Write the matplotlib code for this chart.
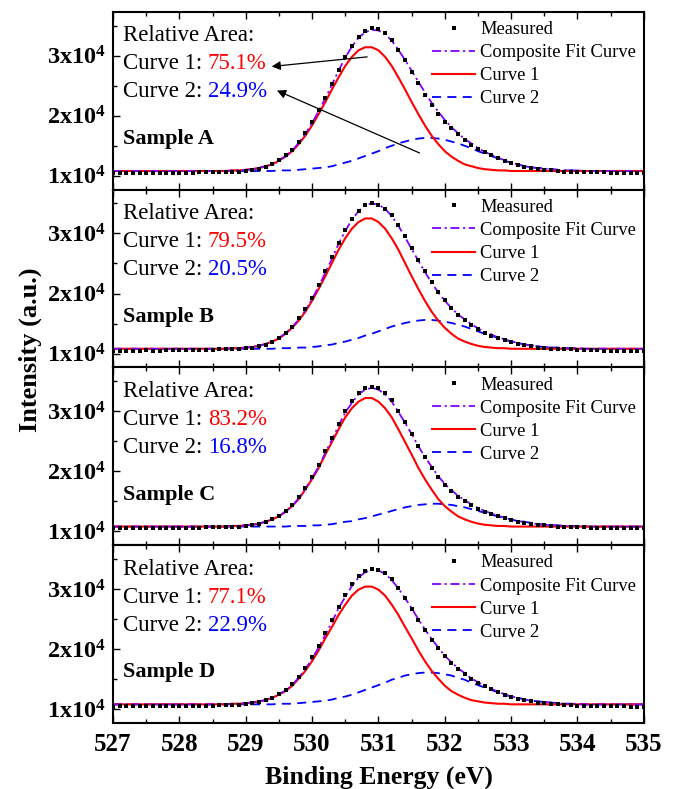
import numpy as np
import matplotlib
matplotlib.use('Agg')
from matplotlib import pyplot as plt
from matplotlib.ticker import MultipleLocator

plt.rcParams['font.family'] = 'Liberation Serif'
plt.rcParams['mathtext.fontset'] = 'custom'
plt.rcParams['mathtext.rm'] = 'Liberation Serif'
plt.rcParams['mathtext.bf'] = 'Liberation Serif:bold'

# binding energy grid, 0.1 eV steps
energy = np.round(np.arange(527.0, 535.05, 0.1), 1)

# all intensities in units of 1e3 counts
meas_a = [10.4, 10.5, 10.5, 10.5, 10.5, 10.5, 10.5, 10.5, 10.5, 10.5,
          10.5, 10.5, 10.5, 10.6, 10.6, 10.6, 10.6, 10.6, 10.7, 10.7,
          10.8, 11.0, 11.2, 11.5, 11.9, 12.6, 13.4, 14.3, 15.6, 17.1,
          18.9, 20.9, 23.0, 25.3, 27.6, 29.8, 31.6, 33.1, 34.1, 34.6,
          34.5, 33.8, 32.6, 31.0, 29.2, 27.3, 25.4, 23.5, 21.8, 20.3,
          19.0, 17.9, 16.9, 16.0, 15.2, 14.5, 13.9, 13.4, 12.9, 12.5,
          12.1, 11.8, 11.5, 11.3, 11.1, 11.0, 10.9, 10.8, 10.7, 10.7,
          10.7, 10.6, 10.6, 10.6, 10.6, 10.5, 10.5, 10.5, 10.4, 10.4,
          10.4]
fit_a = [10.8, 10.8, 10.8, 10.8, 10.8, 10.8, 10.8, 10.8, 10.8, 10.8,
         10.8, 10.8, 10.8, 10.8, 10.8, 10.8, 10.8, 10.8, 10.9, 10.9,
         11.0, 11.1, 11.3, 11.6, 11.9, 12.6, 13.3, 14.2, 15.5, 17.0,
         18.8, 20.8, 22.9, 25.2, 27.5, 29.7, 31.5, 33.0, 33.9, 34.3,
         34.2, 33.6, 32.5, 31.0, 29.3, 27.5, 25.7, 23.9, 22.2, 20.7,
         19.3, 18.1, 17.1, 16.1, 15.4, 14.6, 14.0, 13.5, 13.0, 12.6,
         12.2, 11.9, 11.6, 11.4, 11.3, 11.2, 11.1, 11.0, 10.9, 10.9,
         10.9, 10.8, 10.8, 10.8, 10.8, 10.8, 10.8, 10.8, 10.8, 10.8,
         10.8]
c1_a = [10.8, 10.8, 10.8, 10.8, 10.8, 10.8, 10.8, 10.8, 10.8, 10.8,
        10.8, 10.8, 10.8, 10.8, 10.8, 10.8, 10.8, 10.8, 10.9, 10.9,
        11.0, 11.1, 11.3, 11.6, 11.9, 12.5, 13.2, 14.1, 15.3, 16.7,
        18.4, 20.3, 22.3, 24.4, 26.4, 28.3, 29.8, 30.9, 31.4, 31.4,
        30.9, 29.8, 28.3, 26.4, 24.4, 22.3, 20.3, 18.4, 16.7, 15.3,
        14.1, 13.2, 12.5, 11.9, 11.6, 11.3, 11.1, 11.0, 10.9, 10.9,
        10.8, 10.8, 10.8, 10.8, 10.8, 10.8, 10.8, 10.8, 10.8, 10.8,
        10.8, 10.8, 10.8, 10.8, 10.8, 10.8, 10.8, 10.8, 10.8, 10.8,
        10.8]
c2_a = [10.8, 10.8, 10.8, 10.8, 10.8, 10.8, 10.8, 10.8, 10.8, 10.8,
        10.8, 10.8, 10.8, 10.8, 10.8, 10.8, 10.8, 10.8, 10.8, 10.8,
        10.8, 10.8, 10.8, 10.8, 10.8, 10.9, 10.9, 10.9, 11.0, 11.1,
        11.2, 11.3, 11.4, 11.6, 11.9, 12.2, 12.5, 12.9, 13.3, 13.7,
        14.1, 14.6, 15.0, 15.4, 15.7, 16.0, 16.2, 16.3, 16.3, 16.2,
        16.0, 15.7, 15.4, 15.0, 14.6, 14.1, 13.7, 13.3, 12.9, 12.5,
        12.2, 11.9, 11.6, 11.4, 11.3, 11.2, 11.1, 11.0, 10.9, 10.9,
        10.9, 10.8, 10.8, 10.8, 10.8, 10.8, 10.8, 10.8, 10.8, 10.8,
        10.8]

meas_b = [10.5, 10.5, 10.5, 10.5, 10.5, 10.6, 10.5, 10.5, 10.6, 10.6,
          10.6, 10.6, 10.6, 10.6, 10.6, 10.6, 10.7, 10.7, 10.7, 10.8,
          10.9, 11.0, 11.2, 11.5, 12.0, 12.6, 13.5, 14.5, 15.9, 17.4,
          19.3, 21.4, 23.7, 26.0, 28.4, 30.5, 32.4, 33.8, 34.7, 35.0,
          34.8, 34.1, 33.0, 31.4, 29.6, 27.6, 25.6, 23.7, 21.9, 20.3,
          18.9, 17.6, 16.5, 15.6, 14.8, 14.1, 13.5, 13.0, 12.6, 12.2,
          11.9, 11.6, 11.4, 11.2, 11.0, 10.9, 10.8, 10.8, 10.7, 10.7,
          10.6, 10.6, 10.6, 10.6, 10.5, 10.5, 10.5, 10.5, 10.5, 10.4,
          10.4]
fit_b = [10.8, 10.8, 10.8, 10.8, 10.8, 10.8, 10.8, 10.8, 10.8, 10.8,
         10.8, 10.8, 10.8, 10.8, 10.8, 10.8, 10.8, 10.8, 10.9, 10.9,
         11.0, 11.1, 11.3, 11.6, 12.0, 12.6, 13.4, 14.4, 15.7, 17.2,
         19.1, 21.2, 23.5, 25.8, 28.3, 30.4, 32.3, 33.7, 34.7, 35.0,
         34.8, 34.1, 32.9, 31.3, 29.4, 27.4, 25.5, 23.6, 21.8, 20.2,
         18.8, 17.6, 16.5, 15.7, 14.9, 14.2, 13.6, 13.2, 12.7, 12.4,
         12.0, 11.8, 11.5, 11.4, 11.2, 11.1, 11.0, 11.0, 10.9, 10.9,
         10.9, 10.8, 10.8, 10.8, 10.8, 10.8, 10.8, 10.8, 10.8, 10.8,
         10.8]
c1_b = [10.8, 10.8, 10.8, 10.8, 10.8, 10.8, 10.8, 10.8, 10.8, 10.8,
        10.8, 10.8, 10.8, 10.8, 10.8, 10.8, 10.8, 10.8, 10.9, 10.9,
        11.0, 11.1, 11.3, 11.6, 12.0, 12.5, 13.3, 14.3, 15.5, 17.0,
        18.8, 20.8, 22.9, 25.1, 27.3, 29.2, 30.8, 31.9, 32.5, 32.5,
        31.9, 30.8, 29.2, 27.3, 25.1, 22.9, 20.8, 18.8, 17.0, 15.5,
        14.3, 13.3, 12.5, 12.0, 11.6, 11.3, 11.1, 11.0, 10.9, 10.9,
        10.8, 10.8, 10.8, 10.8, 10.8, 10.8, 10.8, 10.8, 10.8, 10.8,
        10.8, 10.8, 10.8, 10.8, 10.8, 10.8, 10.8, 10.8, 10.8, 10.8,
        10.8]
c2_b = [10.8, 10.8, 10.8, 10.8, 10.8, 10.8, 10.8, 10.8, 10.8, 10.8,
        10.8, 10.8, 10.8, 10.8, 10.8, 10.8, 10.8, 10.8, 10.8, 10.8,
        10.8, 10.8, 10.8, 10.8, 10.8, 10.9, 10.9, 10.9, 11.0, 11.0,
        11.1, 11.2, 11.4, 11.5, 11.8, 12.0, 12.3, 12.6, 13.0, 13.3,
        13.7, 14.1, 14.5, 14.8, 15.1, 15.3, 15.5, 15.6, 15.6, 15.5,
        15.3, 15.1, 14.8, 14.5, 14.1, 13.7, 13.3, 13.0, 12.6, 12.3,
        12.0, 11.8, 11.5, 11.4, 11.2, 11.1, 11.0, 11.0, 10.9, 10.9,
        10.9, 10.8, 10.8, 10.8, 10.8, 10.8, 10.8, 10.8, 10.8, 10.8,
        10.8]

meas_c = [10.5, 10.5, 10.6, 10.5, 10.5, 10.5, 10.6, 10.6, 10.6, 10.6,
          10.6, 10.6, 10.6, 10.6, 10.7, 10.7, 10.7, 10.7, 10.8, 10.8,
          10.9, 11.1, 11.3, 11.6, 12.1, 12.6, 13.4, 14.4, 15.7, 17.3,
          19.1, 21.1, 23.4, 25.6, 27.9, 30.0, 31.7, 33.1, 33.9, 34.1,
          33.8, 33.0, 31.8, 30.1, 28.2, 26.2, 24.2, 22.3, 20.6, 19.1,
          17.8, 16.8, 15.8, 15.0, 14.4, 13.8, 13.3, 12.9, 12.5, 12.2,
          11.9, 11.6, 11.4, 11.2, 11.1, 11.0, 10.9, 10.8, 10.8, 10.7,
          10.7, 10.7, 10.6, 10.6, 10.6, 10.6, 10.6, 10.5, 10.5, 10.5,
          10.5]
fit_c = [10.8, 10.8, 10.8, 10.8, 10.8, 10.8, 10.8, 10.8, 10.8, 10.8,
         10.8, 10.8, 10.8, 10.8, 10.8, 10.8, 10.8, 10.8, 10.9, 10.9,
         11.0, 11.1, 11.3, 11.6, 12.0, 12.5, 13.3, 14.3, 15.5, 17.1,
         18.9, 20.8, 23.1, 25.3, 27.6, 29.8, 31.4, 32.8, 33.6, 33.9,
         33.6, 32.8, 31.6, 29.9, 28.1, 26.2, 24.2, 22.4, 20.8, 19.2,
         17.9, 16.9, 15.9, 15.2, 14.5, 13.9, 13.4, 13.0, 12.6, 12.3,
         12.0, 11.7, 11.6, 11.4, 11.2, 11.1, 11.0, 11.0, 10.9, 10.9,
         10.9, 10.8, 10.8, 10.8, 10.8, 10.8, 10.8, 10.8, 10.8, 10.8,
         10.8]
c1_c = [10.8, 10.8, 10.8, 10.8, 10.8, 10.8, 10.8, 10.8, 10.8, 10.8,
        10.8, 10.8, 10.8, 10.8, 10.8, 10.8, 10.8, 10.8, 10.9, 10.9,
        11.0, 11.1, 11.3, 11.6, 12.0, 12.5, 13.3, 14.2, 15.4, 17.0,
        18.7, 20.6, 22.8, 24.9, 27.0, 29.0, 30.5, 31.6, 32.2, 32.2,
        31.6, 30.5, 29.0, 27.0, 24.9, 22.8, 20.6, 18.7, 17.0, 15.4,
        14.2, 13.3, 12.5, 12.0, 11.6, 11.3, 11.1, 11.0, 10.9, 10.9,
        10.8, 10.8, 10.8, 10.8, 10.8, 10.8, 10.8, 10.8, 10.8, 10.8,
        10.8, 10.8, 10.8, 10.8, 10.8, 10.8, 10.8, 10.8, 10.8, 10.8,
        10.8]
c2_c = [10.8, 10.8, 10.8, 10.8, 10.8, 10.8, 10.8, 10.8, 10.8, 10.8,
        10.8, 10.8, 10.8, 10.8, 10.8, 10.8, 10.8, 10.8, 10.8, 10.8,
        10.8, 10.8, 10.8, 10.8, 10.8, 10.8, 10.8, 10.9, 10.9, 10.9,
        11.0, 11.0, 11.1, 11.2, 11.4, 11.6, 11.7, 12.0, 12.2, 12.5,
        12.8, 13.1, 13.4, 13.7, 14.0, 14.2, 14.4, 14.5, 14.6, 14.6,
        14.5, 14.4, 14.2, 14.0, 13.7, 13.4, 13.1, 12.8, 12.5, 12.2,
        12.0, 11.7, 11.6, 11.4, 11.2, 11.1, 11.0, 11.0, 10.9, 10.9,
        10.9, 10.8, 10.8, 10.8, 10.8, 10.8, 10.8, 10.8, 10.8, 10.8,
        10.8]

meas_d = [10.4, 10.5, 10.5, 10.5, 10.5, 10.5, 10.5, 10.5, 10.5, 10.6,
          10.6, 10.6, 10.6, 10.6, 10.6, 10.6, 10.7, 10.7, 10.7, 10.7,
          10.8, 11.0, 11.2, 11.5, 11.9, 12.5, 13.2, 14.2, 15.4, 16.9,
          18.6, 20.5, 22.6, 24.8, 27.0, 29.0, 30.8, 32.1, 33.0, 33.3,
          33.2, 32.6, 31.6, 30.2, 28.5, 26.7, 24.9, 23.1, 21.5, 20.1,
          18.8, 17.7, 16.7, 15.9, 15.1, 14.4, 13.8, 13.3, 12.8, 12.4,
          12.0, 11.7, 11.5, 11.3, 11.1, 11.0, 10.9, 10.8, 10.7, 10.7,
          10.6, 10.6, 10.6, 10.5, 10.5, 10.5, 10.5, 10.5, 10.4, 10.4,
          10.4]
fit_d = [10.8, 10.8, 10.8, 10.8, 10.8, 10.8, 10.8, 10.8, 10.8, 10.8,
         10.8, 10.8, 10.8, 10.8, 10.8, 10.8, 10.8, 10.8, 10.9, 10.9,
         11.0, 11.1, 11.3, 11.5, 11.9, 12.5, 13.1, 14.0, 15.3, 16.7,
         18.4, 20.3, 22.4, 24.5, 26.8, 28.7, 30.5, 31.9, 32.8, 33.2,
         33.1, 32.5, 31.5, 30.1, 28.5, 26.8, 25.0, 23.3, 21.7, 20.3,
         18.9, 17.8, 16.8, 16.0, 15.1, 14.5, 13.9, 13.4, 12.9, 12.5,
         12.1, 11.9, 11.6, 11.4, 11.3, 11.2, 11.1, 11.0, 10.9, 10.9,
         10.9, 10.8, 10.8, 10.8, 10.8, 10.8, 10.8, 10.8, 10.8, 10.8,
         10.8]
c1_d = [10.8, 10.8, 10.8, 10.8, 10.8, 10.8, 10.8, 10.8, 10.8, 10.8,
        10.8, 10.8, 10.8, 10.8, 10.8, 10.8, 10.8, 10.8, 10.9, 10.9,
        11.0, 11.1, 11.3, 11.5, 11.9, 12.4, 13.0, 13.9, 15.1, 16.4,
        18.0, 19.8, 21.8, 23.7, 25.7, 27.4, 28.9, 29.9, 30.4, 30.4,
        29.9, 28.9, 27.4, 25.7, 23.7, 21.8, 19.8, 18.0, 16.4, 15.1,
        13.9, 13.0, 12.4, 11.9, 11.5, 11.3, 11.1, 11.0, 10.9, 10.9,
        10.8, 10.8, 10.8, 10.8, 10.8, 10.8, 10.8, 10.8, 10.8, 10.8,
        10.8, 10.8, 10.8, 10.8, 10.8, 10.8, 10.8, 10.8, 10.8, 10.8,
        10.8]
c2_d = [10.8, 10.8, 10.8, 10.8, 10.8, 10.8, 10.8, 10.8, 10.8, 10.8,
        10.8, 10.8, 10.8, 10.8, 10.8, 10.8, 10.8, 10.8, 10.8, 10.8,
        10.8, 10.8, 10.8, 10.8, 10.8, 10.9, 10.9, 10.9, 11.0, 11.1,
        11.2, 11.3, 11.4, 11.6, 11.9, 12.1, 12.4, 12.8, 13.2, 13.6,
        14.0, 14.4, 14.9, 15.2, 15.6, 15.8, 16.0, 16.1, 16.1, 16.0,
        15.8, 15.6, 15.2, 14.9, 14.4, 14.0, 13.6, 13.2, 12.8, 12.4,
        12.1, 11.9, 11.6, 11.4, 11.3, 11.2, 11.1, 11.0, 10.9, 10.9,
        10.9, 10.8, 10.8, 10.8, 10.8, 10.8, 10.8, 10.8, 10.8, 10.8,
        10.8]

samples = ['Sample A', 'Sample B', 'Sample C', 'Sample D']
area_1 = ['75.1%', '79.5%', '83.2%', '77.1%']
area_2 = ['24.9%', '20.5%', '16.8%', '22.9%']
measured = [meas_a, meas_b, meas_c, meas_d]
composite = [fit_a, fit_b, fit_c, fit_d]
curve_1 = [c1_a, c1_b, c1_c, c1_d]
curve_2 = [c2_a, c2_b, c2_c, c2_d]

yticks = [1e4, 2e4, 3e4]
ytick_labels = [r'$\mathbf{1x10^4}$', r'$\mathbf{2x10^4}$', r'$\mathbf{3x10^4}$']

fig, axes = plt.subplots(4, 1, figsize=(6.77, 7.89), dpi=100, sharex=True)
fig.subplots_adjust(left=0.167, right=0.951, top=0.985, bottom=0.0837, hspace=0)

for i, ax in enumerate(axes):
    s2, = ax.plot(energy, np.array(curve_2[i]) * 1e3, color='#0000ff', lw=1.3,
                  ls=(0, (5, 3.5)), label='Curve 2')
    s1, = ax.plot(energy, np.array(curve_1[i]) * 1e3, color='#ff0000', lw=1.5,
                  label='Curve 1')
    sf, = ax.plot(energy, np.array(composite[i]) * 1e3, color='#8000ff', lw=1.3,
                  ls=(0, (5, 2, 1.2, 2)), label='Composite Fit Curve')
    sm, = ax.plot(energy, np.array(measured[i]) * 1e3, 's', color='black', ms=3.3,
                  mew=0, label='Measured')

    ax.set_xlim(527, 535)
    ax.set_ylim(7700, 37300)
    ax.xaxis.set_major_locator(MultipleLocator(1))
    ax.xaxis.set_minor_locator(MultipleLocator(0.5))
    ax.set_yticks(yticks)
    ax.set_yticklabels(ytick_labels)
    ax.yaxis.set_minor_locator(MultipleLocator(5000))
    ax.tick_params(which='both', direction='in', top=True, right=False, width=1.0)
    ax.tick_params(which='major', length=5)
    ax.tick_params(which='minor', length=3)
    ax.tick_params(axis='y', labelsize=17.5, pad=5)
    ax.tick_params(axis='x', labelsize=18, pad=7)
    for lab in ax.get_xticklabels():
        lab.set_fontweight('bold')
    for sp in ax.spines.values():
        sp.set_linewidth(1.5)

    ax.text(0.019, 0.865, 'Relative Area:', transform=ax.transAxes,
            fontsize=16.5, va='center', ha='left')
    t1 = ax.text(0.019, 0.707, 'Curve 1:', transform=ax.transAxes,
                 fontsize=16.5, va='center', ha='left')
    ax.annotate(area_1[i], xy=(1, 0), xycoords=t1, xytext=(4, 0),
                textcoords='offset points', va='bottom', ha='left',
                fontsize=16.5, color='#ff0000')
    t2 = ax.text(0.019, 0.55, 'Curve 2:', transform=ax.transAxes,
                 fontsize=16.5, va='center', ha='left')
    ax.annotate(area_2[i], xy=(1, 0), xycoords=t2, xytext=(4, 0),
                textcoords='offset points', va='bottom', ha='left',
                fontsize=16.5, color='#0000ff')
    ax.text(0.019, 0.285, samples[i], transform=ax.transAxes,
            fontsize=16, fontweight='bold', va='center', ha='left')

    ax.legend(handles=[sm, sf, s1, s2], loc='upper left',
              bbox_to_anchor=(0.584, 1.0), frameon=False, fontsize=13.3,
              handlelength=2.3, handletextpad=0.3, labelspacing=0.33,
              borderaxespad=0, borderpad=0.5, numpoints=1)

# arrows pointing to the area labels in the top panel
arrow = dict(arrowstyle='-|>', color='black', lw=0.9, shrinkA=0, shrinkB=0,
             mutation_scale=13)
axes[0].annotate('', xy=(529.39, 28200), xytext=(530.83, 29800), arrowprops=arrow)
axes[0].annotate('', xy=(529.47, 24200), xytext=(531.62, 13800), arrowprops=arrow)

fig.text(0.045, 0.557, 'Intensity (a.u.)', rotation=90, fontsize=19,
         fontweight='bold', ha='center', va='center')
fig.text(0.559, 0.015, 'Binding Energy (eV)', fontsize=18.5,
         fontweight='bold', ha='center', va='center')

fig.savefig('out.png', dpi=100)
